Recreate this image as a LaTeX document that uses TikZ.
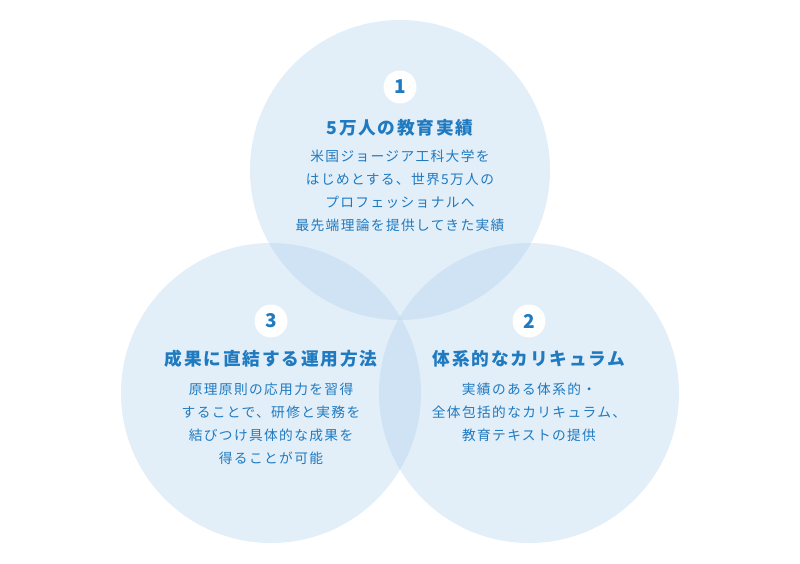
\documentclass[tikz,border=0pt]{standalone}
\usepackage{fontspec}
\setmainfont{Noto Sans CJK JP}
\newfontfamily\jp[LetterSpace=10]{Noto Sans CJK JP}
\usepackage{xcolor}
\usepackage{tikz}
\usetikzlibrary{positioning}
\definecolor{cfill}{RGB}{179,210,237}
\definecolor{ctext}{RGB}{31,122,192}

\begin{document}
\begin{tikzpicture}[x=1pt,y=-1pt,
  ci/.style={circle,fill=cfill,fill opacity=0.38,minimum size=300pt,inner sep=0pt},
  nb/.style={circle,fill=white,minimum size=33pt,inner sep=0pt,text=ctext,font=\jp\bfseries\fontsize{19}{19}\selectfont},
  tt/.style={text=ctext,inner sep=0pt,font=\jp\bfseries\fontsize{17.7}{20}\selectfont},
  bd/.style={text=ctext,inner sep=0pt,align=center,font=\jp\fontsize{13.7}{23}\selectfont}]
  \useasboundingbox (0,0) rectangle (800,563);
  % circles
  \node[ci](c1) at (400,170){};
  \node[ci](c3) at (271,393){};
  \node[ci](c2) at (529,393){};
  % 1
  \node[nb](n1) at (400,87){1};
  \node[tt](t1) at (400,128){5万人の教育実績};
  \node[bd](b1) at (400,191){米国ジョージア工科大学を\\はじめとする、世界5万人の\\プロフェッショナルへ\\最先端理論を提供してきた実績};
  % 3
  \node[nb](n3) at (271,321){3};
  \node[tt](t3) at (271,359){成果に直結する運用方法};
  \node[bd](b3) at (271,424){原理原則の応用力を習得\\することで、研修と実務を\\結びつけ具体的な成果を\\得ることが可能};
  % 2
  \node[nb](n2) at (529,321){2};
  \node[tt](t2) at (529,359){体系的なカリキュラム};
  \node[bd](b2) at (529,412){実績のある体系的・\\全体包括的なカリキュラム、\\教育テキストの提供};
\end{tikzpicture}
\end{document}
